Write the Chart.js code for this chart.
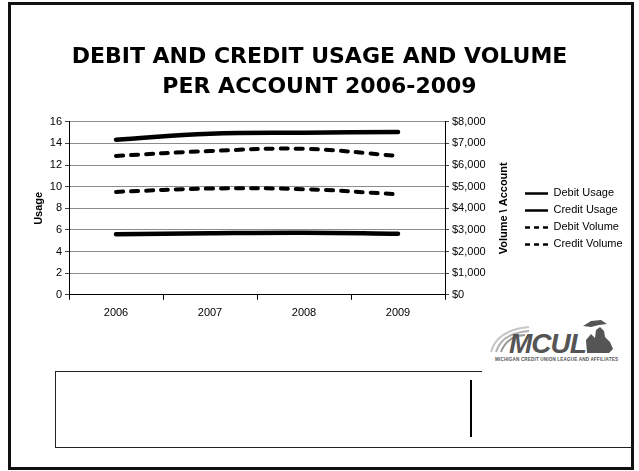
<!DOCTYPE html>
<html>
<head>
<meta charset="utf-8">
<script src="https://cdn.jsdelivr.net/npm/chart.js@4.4.1/dist/chart.umd.min.js"></script>
<style>
  body { margin: 0; background: #fff; overflow: hidden; }
  #page { position: relative; width: 639px; height: 471px; }
  #frame { position: absolute; left: 8px; top: 2px; width: 620px; height: 462px; border: 3px solid #111; }
  #noteTop { position: absolute; left: 55px; top: 371px; width: 427px; height: 0; border-top: 1px solid #222; }
  #note { position: absolute; left: 55px; top: 371px; width: 577px; height: 76px; border-left: 1px solid #222; border-bottom: 1px solid #222; }
  #divider { position: absolute; left: 470px; top: 380px; width: 2px; height: 57px; background: #000; }
  #logo { position: absolute; left: 485px; top: 318px; }
  canvas { position: absolute; left: 0; top: 0; }
</style>
</head>
<body>
<div id="page">
  <div id="frame"></div>
  <div id="noteTop"></div>
  <div id="note"></div>
  <div id="divider"></div>
  <svg id="logo" width="150" height="50" viewBox="0 0 150 50">
    <path d="M6 34 Q12 12 44 9" fill="none" stroke="#c8c8c8" stroke-width="2"/>
    <path d="M11 34 Q17 15 44 13" fill="none" stroke="#b0b0b0" stroke-width="2"/>
    <path d="M16 34 Q22 18 40 17" fill="none" stroke="#989898" stroke-width="2"/>
    <text x="24" y="35" font-family="Liberation Sans" font-size="28" font-weight="bold" font-style="italic" fill="#555" letter-spacing="-1">MCUL</text>
    <path d="M102 35 L101 22 L106 16 L110 20 L111 12 L115 9 L119 13 L120 19 L125 24 L128 31 L124 35 Z" fill="#555"/>
    <path d="M98 8 L106 3 L116 2 L122 6 L114 7 L106 9 Z" fill="#555"/>
    <text x="10" y="43" font-family="Liberation Sans" font-size="4.6" font-weight="bold" fill="#555" textLength="123">MICHIGAN CREDIT UNION LEAGUE AND AFFILIATES</text>
  </svg>
  <canvas id="chart" width="639" height="471"></canvas>
</div>
<script>
// categories and series
const years = ['2006', '2007', '2008', '2009'];
const debitUsage = [14.35, 14.9, 15.0, 15.05];
const creditUsage = [5.6, 5.7, 5.75, 5.65];
const debitVolume = [6425, 6650, 6750, 6425];
const creditVolume = [4760, 4915, 4885, 4650];

const usageTicks = { min: 0, max: 16, step: 2 };
const volumeTicks = { min: 0, max: 8000, step: 1000 };

Chart.defaults.font.family = 'Liberation Sans';
Chart.defaults.font.size = 11;
Chart.defaults.color = '#000';

const lineDash = [7, 8];
const legendDash = [5, 4];

// right axis title reads bottom-to-top, so it is drawn here
const volumeTitle = {
    id: 'volumeTitle',
    afterDraw(chart) {
        const s = chart.scales.y1;
        const ctx = chart.ctx;
        ctx.save();
        ctx.translate(s.right - 15, (s.top + s.bottom) / 2);
        ctx.rotate(-Math.PI / 2);
        ctx.font = 'bold 11px "Liberation Sans"';
        ctx.fillStyle = '#000';
        ctx.textAlign = 'center';
        ctx.textBaseline = 'middle';
        ctx.fillText('Volume \\ Account', 0, 0);
        ctx.restore();
    }
};

function solid(label, data, axis) {
    return {
        label: label, data: data, yAxisID: axis,
        borderColor: '#000', backgroundColor: '#000',
        borderWidth: 4.5, pointRadius: 0, tension: 0.4,
        borderCapStyle: 'round', borderJoinStyle: 'round'
    };
}

function dashed(label, data, axis) {
    return Object.assign(solid(label, data, axis), {
        borderWidth: 4, borderDash: lineDash
    });
}

new Chart(document.getElementById('chart'), {
    type: 'line',
    data: {
        labels: years,
        datasets: [
            solid('Debit Usage', debitUsage, 'y'),
            solid('Credit Usage', creditUsage, 'y'),
            dashed('Debit Volume', debitVolume, 'y1'),
            dashed('Credit Volume', creditVolume, 'y1')
        ]
    },
    options: {
        responsive: false,
        animation: false,
        layout: { padding: { left: 12, right: 12, top: 0, bottom: 144 } },
        plugins: {
            title: {
                display: true,
                text: ['DEBIT AND CREDIT USAGE AND VOLUME', 'PER ACCOUNT 2006-2009'],
                color: '#000',
                font: { family: 'DejaVu Sans', size: 22, weight: 'bold', lineHeight: 1.36 },
                padding: { top: 42, bottom: 20 }
            },
            legend: {
                position: 'right',
                fullSize: false,
                maxWidth: 108,
                title: { display: true, text: '', padding: { top: 4, bottom: 4 } },
                labels: {
                    usePointStyle: true,
                    pointStyle: 'line',
                    pointStyleWidth: 23,
                    padding: 6,
                    color: '#000',
                    generateLabels(chart) {
                        const base = Chart.defaults.plugins.legend.labels.generateLabels(chart);
                        return base.map(item => {
                            const ds = chart.data.datasets[item.datasetIndex];
                            return Object.assign(item, {
                                strokeStyle: '#000',
                                lineWidth: 2.5,
                                lineCap: 'butt',
                                lineDash: ds.borderDash ? legendDash : []
                            });
                        });
                    }
                }
            },
            tooltip: { enabled: false }
        },
        scales: {
            x: {
                offset: true,
                grid: { offset: true, drawOnChartArea: false, tickLength: 5, tickColor: '#000' },
                border: { color: '#000', width: 1 },
                ticks: { padding: 7 }
            },
            y: {
                position: 'left',
                min: usageTicks.min, max: usageTicks.max,
                ticks: { stepSize: usageTicks.step, padding: 3 },
                grid: { color: '#8c8c8c', tickLength: 4, tickColor: '#444' },
                border: { color: '#000', width: 1 },
                title: { display: true, text: 'Usage', font: { weight: 'bold', size: 11 }, padding: { top: 20, bottom: 0 } },
                afterFit(scale) { scale.width = 57; }
            },
            y1: {
                position: 'right',
                min: volumeTicks.min, max: volumeTicks.max,
                ticks: {
                    stepSize: volumeTicks.step, padding: 3,
                    callback: v => '$' + v.toLocaleString('en-US')
                },
                grid: { drawOnChartArea: false, tickLength: 4, tickColor: '#444' },
                border: { color: '#000', width: 1 },
                afterFit(scale) { scale.width = 74; }
            }
        }
    },
    plugins: [volumeTitle]
});
</script>
</body>
</html>
